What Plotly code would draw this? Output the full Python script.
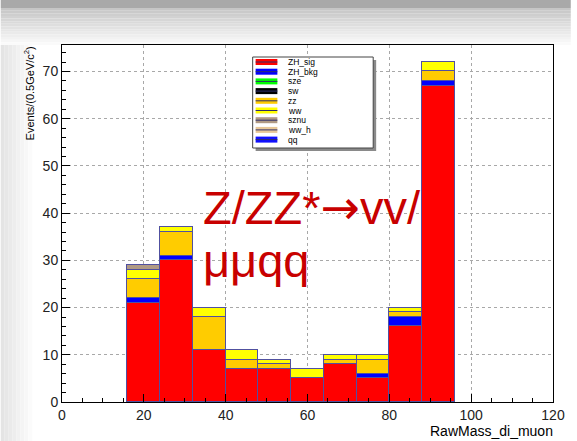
import plotly.graph_objects as go

# bin centres (8 GeV wide bins from 16 to 96)
bin_centers = [20, 28, 36, 44, 52, 60, 68, 76, 84, 92]

# stacked components, bottom to top
ZH_sig = [21, 30, 11, 7, 7, 5, 8, 5, 16, 67]
ZH_bkg = [1, 1, 0, 0, 0, 0, 0, 1, 2, 1]
sze = [0, 0, 0, 0, 0, 0, 0, 0, 0, 0]
sw = [0, 0, 0, 0, 0, 0, 0, 0, 0, 0]
zz = [4, 5, 7, 2, 1, 0, 1, 3, 1, 2]
ww = [2, 1, 2, 2, 1, 2, 1, 1, 1, 2]
sznu = [1, 0, 0, 0, 0, 0, 0, 0, 0, 0]
ww_h = [0, 0, 0, 0, 0, 0, 0, 0, 0, 0]
qq = [0, 0, 0, 0, 0, 0, 0, 0, 0, 0]

names = ["ZH_sig", "ZH_bkg", "sze", "sw", "zz", "ww", "sznu", "ww_h", "qq"]
series = [ZH_sig, ZH_bkg, sze, sw, zz, ww, sznu, ww_h, qq]
colors = ["#ff0000", "#0000ff", "#00ff00", "#000000", "#ffcc00",
          "#ffff00", "#b09a84", "#e8c898", "#1010ff"]

x_ticks = [0, 20, 40, 60, 80, 100, 120]
y_ticks = [0, 10, 20, 30, 40, 50, 60, 70]

# plot area in pixels
L, R, T, B = 62, 559, 45, 402
W, H = 577, 441


def px(p):
    return (p - L) / (R - L)


def py(p):
    return (B - p) / (B - T)


fig = go.Figure()
for name, vals, col in zip(names, series, colors):
    fig.add_trace(go.Bar(
        x=bin_centers, y=vals, width=8, name=name,
        marker=dict(color=col, line=dict(color="rgb(80,80,160)", width=1)),
        showlegend=False,
    ))

shapes = []
# screenshot background: grey band + gradient at top, soft shade at left
shapes.append(dict(type="rect", xref="paper", yref="paper", x0=px(0), x1=px(W),
                   y0=py(0), y1=py(8), fillcolor="#a9a9a9", line_width=0, layer="below"))
n = 14
for i in range(n):
    g = int(0xc6 + (0xfa - 0xc6) * i / (n - 1))
    y0 = 8 + (45 - 8) * i / n
    y1 = 8 + (45 - 8) * (i + 1) / n
    shapes.append(dict(type="rect", xref="paper", yref="paper", x0=px(0), x1=px(W),
                       y0=py(y0), y1=py(y1), fillcolor=f"rgb({g},{g},{g})",
                       line_width=0, layer="below"))
for i in range(8):
    g = int(0xe4 + (0xfb - 0xe4) * i / 7)
    shapes.append(dict(type="rect", xref="paper", yref="paper",
                       x0=px(i * 4), x1=px(i * 4 + 4), y0=py(45), y1=py(H),
                       fillcolor=f"rgb({g},{g},{g})", line_width=0, layer="below"))

# legend box (drawn by hand to keep ROOT's compact look)
lx0, lx1, ly0, ly1 = 255, 377, 57, 148
shapes.append(dict(type="rect", xref="paper", yref="paper", x0=px(lx0 + 3), x1=px(lx1 + 3),
                   y0=py(ly0 + 3), y1=py(ly1 + 3), fillcolor="#8a8a8a", line_width=0))
shapes.append(dict(type="rect", xref="paper", yref="paper", x0=px(lx0), x1=px(lx1),
                   y0=py(ly0), y1=py(ly1), fillcolor="white",
                   line=dict(color="#444", width=1)))
annotations = []
for i, (name, col) in enumerate(zip(names, colors)):
    yc = 62 + i * 9.7
    shapes.append(dict(type="rect", xref="paper", yref="paper", x0=px(258), x1=px(280),
                       y0=py(yc - 3), y1=py(yc + 3), fillcolor=col, line_width=0))
    shapes.append(dict(type="line", xref="paper", yref="paper", x0=px(258), x1=px(280),
                       y0=py(yc), y1=py(yc), line=dict(color="#30306a", width=1)))
    annotations.append(dict(text=name, xref="paper", yref="paper", x=px(289), y=py(yc),
                            xanchor="left", yanchor="middle", showarrow=False,
                            font=dict(size=8.5, color="black")))

annotations += [
    dict(text="Z/ZZ*<span style='font-family:DejaVu Sans'>→</span>vv/",
         xref="paper", yref="paper", x=px(203), y=py(207),
         xanchor="left", yanchor="middle", showarrow=False,
         font=dict(size=47, color="#c80000")),
    dict(text="μμqq", xref="paper", yref="paper", x=px(203), y=py(260),
         xanchor="left", yanchor="middle", showarrow=False,
         font=dict(size=47, color="#c80000")),
    dict(text="Events/(0.5GeV/c<sup>2</sup>)", xref="paper", yref="paper",
         x=px(29), y=py(44), xanchor="center", yanchor="top", textangle=-90,
         showarrow=False, font=dict(size=11, color="black")),
    dict(text="RawMass_di_muon", xref="paper", yref="paper", x=px(561), y=py(421),
         xanchor="right", yanchor="top", showarrow=False,
         font=dict(size=14, color="black")),
]

axis_common = dict(
    showline=True, linecolor="black", linewidth=1, mirror=True,
    ticks="inside", ticklen=8, tickcolor="black",
    showgrid=True, gridcolor="#a8a8a8", griddash="dot", gridwidth=1,
    zeroline=False, tickfont=dict(size=14, color="#222"),
)

fig.update_layout(
    width=W, height=H,
    margin=dict(l=L, r=W - R, t=T, b=H - B),
    barmode="stack", bargap=0,
    paper_bgcolor="white", plot_bgcolor="white",
    font=dict(family="Liberation Sans, Arial, sans-serif"),
    shapes=shapes, annotations=annotations,
    xaxis=dict(range=[0, 120], tickvals=x_ticks,
               minor=dict(dtick=5, ticklen=4, ticks="inside", tickcolor="black", showgrid=False),
               **axis_common),
    yaxis=dict(range=[0, 75.6], tickvals=y_ticks,
               minor=dict(dtick=2, ticklen=4, ticks="inside", tickcolor="black", showgrid=False),
               **axis_common),
)

fig.write_html("out.html", config={"displayModeBar": False},
               post_script="document.body.style.margin='0';document.body.style.overflow='hidden';")
